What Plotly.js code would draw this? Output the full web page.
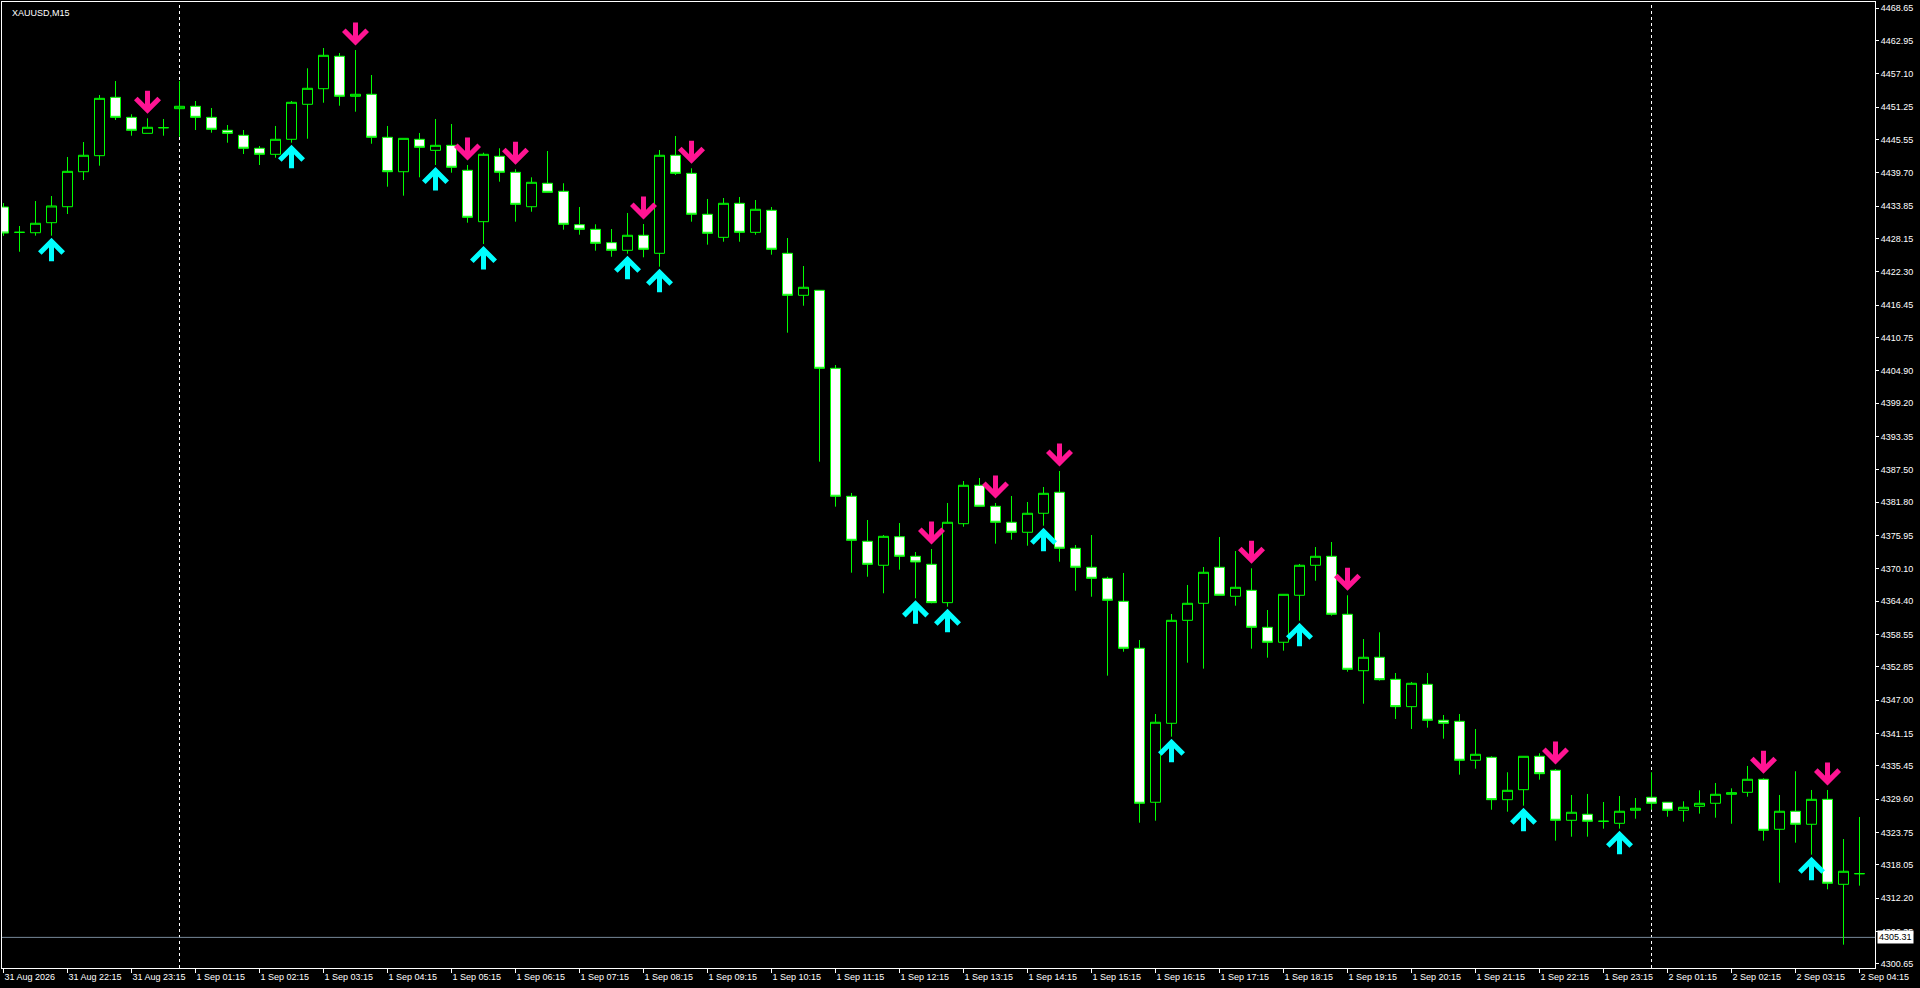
<!DOCTYPE html>
<html><head><meta charset="utf-8">
<script src="https://cdn.plot.ly/plotly-3.0.1.min.js"></script>
<style>html,body{margin:0;padding:0;background:#000;overflow:hidden}#chart{width:1920px;height:988px}</style>
</head><body><div id="chart"></div>
<script>
const symbolTitle = 'XAUUSD,M15';

const opens = [4433.68,4429.23,4429.16,4430.92,4433.73,4439.88,4442.70,4452.96,4449.44,4446.63,
4447.62,4450.96,4451.38,4449.44,4447.16,4446.28,4444.00,4442.94,4445.58,4451.73,
4454.47,4460.17,4453.14,4453.49,4445.93,4439.88,4445.58,4443.64,4444.52,4440.13,
4431.10,4442.59,4439.78,4433.73,4437.85,4436.44,4430.57,4429.76,4427.41,4426.07,
4428.71,4425.54,4442.77,4439.60,4432.40,4428.35,4434.33,4429.23,4433.10,4425.54,
4418.16,4419.04,4405.33,4382.84,4374.93,4370.71,4375.73,4372.29,4370.88,4364.14,
4378.02,4384.77,4381.08,4378.27,4376.51,4379.85,4383.54,4373.70,4370.36,4368.42,
4364.38,4356.12,4329.06,4342.94,4361.04,4364.03,4370.36,4365.26,4366.31,4359.81,
4357.18,4365.44,4370.71,4372.29,4362.10,4352.18,4354.54,4350.67,4345.86,4349.79,
4343.47,4343.29,4336.44,4336.96,4329.51,4331.27,4337.14,4334.68,4325.89,4326.95,
4325.72,4325.36,4327.65,4329.94,4329.06,4327.65,4328.35,4328.88,4330.46,4330.81,
4333.10,4324.31,4327.48,4325.19,4329.58,4314.64,4316.51];

const highs = [4434.38,4430.34,4434.73,4435.61,4442.47,4445.10,4453.36,4455.82,4449.97,4449.27,
4449.15,4455.82,4452.31,4451.08,4448.09,4447.21,4444.40,4447.92,4452.31,4458.06,
4461.62,4460.75,4461.27,4456.88,4447.92,4445.75,4446.69,4449.15,4448.27,4441.06,
4443.22,4444.00,4440.31,4438.90,4443.52,4437.85,4433.68,4430.64,4429.81,4432.63,
4430.69,4443.70,4446.16,4440.48,4435.09,4435.26,4435.44,4434.91,4433.68,4428.23,
4423.31,4419.04,4405.91,4383.42,4378.67,4376.03,4378.14,4373.05,4373.57,4381.66,
4385.52,4386.05,4381.66,4382.89,4381.83,4384.47,4387.28,4374.28,4376.03,4368.70,
4369.36,4357.58,4344.57,4362.15,4367.25,4370.41,4375.68,4373.22,4370.18,4362.85,
4365.61,4370.94,4373.92,4374.80,4365.44,4357.75,4358.93,4351.78,4350.20,4351.78,
4344.40,4344.57,4341.94,4337.14,4334.33,4337.14,4337.67,4334.90,4330.34,4330.52,
4329.11,4330.16,4329.81,4334.33,4329.06,4329.23,4331.16,4332.45,4331.51,4335.44,
4333.28,4330.34,4334.51,4331.22,4331.22,4322.60,4326.47];

const lows = [4428.60,4425.82,4428.64,4428.64,4432.45,4438.42,4440.94,4448.97,4446.21,4446.63,
4446.21,4446.03,4447.21,4446.74,4444.98,4442.99,4441.06,4442.34,4444.98,4445.68,
4452.01,4451.48,4450.43,4444.80,4437.25,4435.67,4438.90,4441.06,4439.71,4430.92,
4427.18,4438.13,4431.10,4432.85,4436.26,4429.69,4428.81,4426.00,4424.94,4425.47,
4424.84,4423.19,4439.30,4431.10,4427.06,4427.58,4427.58,4428.81,4425.30,4411.59,
4416.33,4388.92,4381.01,4369.41,4368.70,4365.79,4369.94,4364.91,4364.03,4363.43,
4377.49,4381.08,4374.51,4375.21,4374.15,4377.67,4371.34,4366.24,4365.19,4351.31,
4355.52,4325.47,4325.82,4340.59,4353.59,4352.54,4365.44,4363.61,4356.05,4354.47,
4355.70,4360.97,4368.00,4361.85,4352.01,4346.38,4350.43,4343.70,4341.94,4342.17,
4340.23,4333.91,4334.96,4327.75,4327.40,4328.46,4333.03,4322.31,4323.01,4323.01,
4324.42,4324.42,4326.17,4327.75,4326.52,4325.65,4327.06,4326.35,4325.29,4330.04,
4322.31,4314.93,4321.96,4319.85,4313.76,4304.03,4314.40];

const closes = [4429.10,4429.23,4430.82,4433.86,4439.95,4442.77,4452.78,4449.44,4447.16,4447.69,
4447.62,4451.38,4449.44,4447.34,4446.63,4444.00,4442.94,4445.58,4452.08,4454.54,
4460.34,4453.14,4453.49,4445.93,4439.88,4445.75,4444.17,4444.52,4440.66,4431.87,
4442.94,4439.78,4434.15,4438.02,4436.26,4430.64,4429.76,4427.30,4426.07,4428.71,
4426.25,4442.77,4439.60,4432.40,4429.06,4434.33,4429.23,4433.28,4426.25,4418.16,
4419.57,4405.33,4382.84,4375.10,4370.88,4375.80,4372.29,4371.29,4364.14,4378.27,
4384.77,4381.08,4378.27,4376.51,4379.85,4383.36,4373.70,4370.36,4368.42,4364.56,
4356.12,4328.88,4343.12,4361.04,4364.03,4369.48,4365.44,4366.84,4359.81,4357.18,
4365.61,4370.71,4372.29,4362.10,4352.43,4354.54,4350.60,4345.86,4349.97,4343.47,
4342.94,4336.44,4337.49,4329.51,4331.16,4337.14,4334.08,4325.89,4327.30,4325.72,
4325.72,4327.48,4328.00,4328.88,4327.65,4328.18,4328.88,4330.46,4330.74,4333.10,
4324.13,4327.48,4325.19,4329.58,4314.82,4316.93,4316.51];

const timeLabels = ['31 Aug 2026','31 Aug 22:15','31 Aug 23:15',
'1 Sep 01:15','1 Sep 02:15','1 Sep 03:15','1 Sep 04:15','1 Sep 05:15','1 Sep 06:15','1 Sep 07:15',
'1 Sep 08:15','1 Sep 09:15','1 Sep 10:15','1 Sep 11:15','1 Sep 12:15','1 Sep 13:15','1 Sep 14:15',
'1 Sep 15:15','1 Sep 16:15','1 Sep 17:15','1 Sep 18:15','1 Sep 19:15','1 Sep 20:15','1 Sep 21:15',
'1 Sep 22:15','1 Sep 23:15','2 Sep 01:15','2 Sep 02:15','2 Sep 03:15','2 Sep 04:15'];
const labelBars = [0,4,8,12,16,20,24,28,32,36,40,44,48,52,56,60,64,68,72,76,80,84,88,92,96,100,104,108,112,116];

const priceTicks = [4468.65,4462.95,4457.10,4451.25,4445.55,4439.70,4433.85,4428.15,4422.30,4416.45,
4410.75,4404.90,4399.20,4393.35,4387.50,4381.80,4375.95,4370.10,4364.40,4358.55,
4352.85,4347.00,4341.15,4335.45,4329.60,4323.75,4318.05,4312.20,4306.35,4300.65];

const buyArrowBars = [3,18,27,30,39,41,57,59,65,73,81,95,101,113];
const sellArrowBars = [9,22,29,32,40,43,58,62,66,78,84,97,110,114];
const daySeparatorBars = [11,103];
const bidPrice = 4305.31;

const bars = opens.map((_, i) => i);
const FONT = 'Liberation Sans, Arial, sans-serif';

const candle = {
  type: 'candlestick',
  x: bars, open: opens, high: highs, low: lows, close: closes,
  increasing: {line: {color: '#00ff00', width: 1}, fillcolor: '#000000'},
  decreasing: {line: {color: '#00ff00', width: 1}, fillcolor: '#ffffff'},
  whiskerwidth: 0,
  hoverinfo: 'skip'
};

const shapes = daySeparatorBars.map(k => ({
  type: 'line', xref: 'x', yref: 'paper', x0: k, x1: k, y0: 0, y1: 1,
  line: {color: '#ffffff', width: 1, dash: '3px,3px'}, layer: 'below'
}));
shapes.push({
  type: 'line', xref: 'paper', yref: 'y', x0: 0, x1: 1, y0: bidPrice, y1: bidPrice,
  line: {color: '#778899', width: 1}, layer: 'below'
});

const annotations = [];
buyArrowBars.forEach(k => annotations.push({
  x: k, y: lows[k], xref: 'x', yref: 'y', text: '', showarrow: true,
  arrowhead: 4, arrowwidth: 5, arrowsize: 0.9, arrowcolor: '#00ffff',
  ax: 0, ay: 26, standoff: 2, font: {size: 1}, borderpad: 0
}));
sellArrowBars.forEach(k => annotations.push({
  x: k, y: highs[k], xref: 'x', yref: 'y', text: '', showarrow: true,
  arrowhead: 4, arrowwidth: 5, arrowsize: 0.9, arrowcolor: '#ff1493',
  ax: 0, ay: -28, standoff: 4.5, font: {size: 1}, borderpad: 0
}));
annotations.push({
  xref: 'paper', yref: 'paper', x: 0, y: 1, xanchor: 'left', yanchor: 'top',
  xshift: 8, yshift: -4, text: symbolTitle, showarrow: false,
  font: {family: FONT, size: 9, color: '#ffffff'}
});
annotations.push({
  xref: 'paper', yref: 'y', x: 1, y: bidPrice, xanchor: 'left', yanchor: 'middle',
  xshift: 2, text: bidPrice.toFixed(2), showarrow: false, bgcolor: '#ffffff',
  borderpad: 1, font: {family: FONT, size: 9, color: '#000000'}
});

const layout = {
  width: 1920, height: 988,
  paper_bgcolor: '#000000', plot_bgcolor: '#000000',
  margin: {l: 2, r: 45, t: 2, b: 20, pad: 0},
  showlegend: false, hovermode: false,
  boxgap: 0.375, boxgroupgap: 0,
  xaxis: {
    range: [-0.09375, 116.96875], showgrid: false, zeroline: false,
    showline: true, linecolor: '#ffffff', linewidth: 1, mirror: true,
    ticks: 'outside', ticklen: 4, tickcolor: '#ffffff', tickwidth: 1,
    tickvals: labelBars, ticktext: timeLabels, ticklabelposition: 'outside right',
    tickfont: {family: FONT, size: 9, color: '#ffffff'},
    rangeslider: {visible: false}, fixedrange: true
  },
  yaxis: {
    side: 'right', range: [4299.93, 4469.71], showgrid: false, zeroline: false,
    showline: true, linecolor: '#ffffff', linewidth: 1, mirror: true,
    ticks: 'outside', ticklen: 3, tickcolor: '#ffffff', tickwidth: 1,
    tickvals: priceTicks, ticktext: priceTicks.map(v => v.toFixed(2)),
    tickfont: {family: FONT, size: 9, color: '#ffffff'}, fixedrange: true
  },
  shapes: shapes,
  annotations: annotations
};

Plotly.newPlot('chart', [candle], layout, {staticPlot: true, displayModeBar: false});
</script>
</body></html>
